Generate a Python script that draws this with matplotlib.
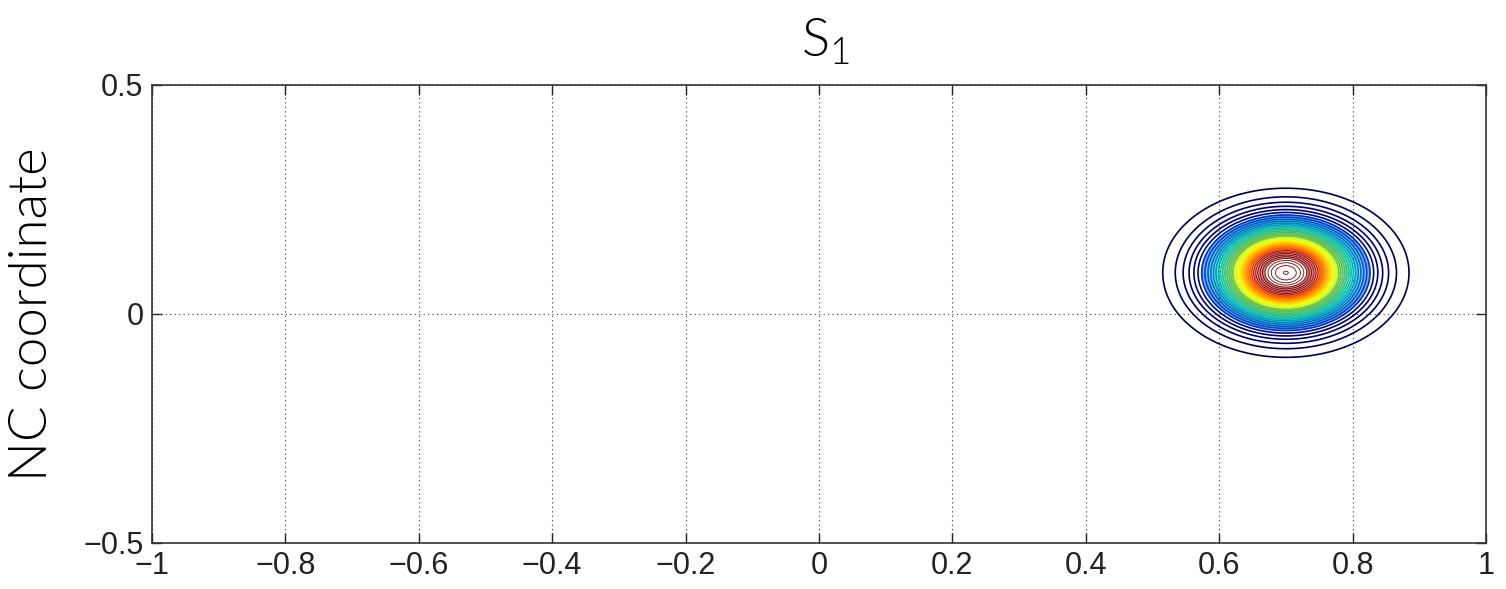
import numpy as np
import matplotlib
matplotlib.use("Agg")
import matplotlib.pyplot as plt
from matplotlib import font_manager

# density of the state around its centre (NC coordinate vs reaction coordinate)
centre_x = 0.70
centre_y = 0.09
width = 0.0674
levels = np.linspace(0.0235, 0.9985, 40)
fill_from = 0.17
fill_to = 0.9

x_ticks = [-1, -0.8, -0.6, -0.4, -0.2, 0, 0.2, 0.4, 0.6, 0.8, 1]
x_labels = ["\u22121", "\u22120.8", "\u22120.6", "\u22120.4", "\u22120.2", "0",
            "0.2", "0.4", "0.6", "0.8", "1"]
y_ticks = [-0.5, 0, 0.5]
y_labels = ["\u22120.5", "0", "0.5"]

tick_font = "Liberation Sans"


def light_font(size):
    # first installed family that ships a true light (300) face
    for fam in ["Lato", "Roboto", "Open Sans", "Noto Sans", "Inter"]:
        for f in font_manager.fontManager.ttflist:
            if f.name == fam and f.weight == 300 and f.style == "normal":
                return font_manager.FontProperties(fname=f.fname, size=size)
    return font_manager.FontProperties(family="Lato", size=size)


xs = np.linspace(-1, 1, 1201)
ys = np.linspace(-0.5, 0.5, 601)
X, Y = np.meshgrid(xs, ys)
Z = np.exp(-((X - centre_x) ** 2 + (Y - centre_y) ** 2) / (2 * width ** 2))

fig = plt.figure(figsize=(15.06, 5.89), dpi=100)
ax = fig.add_axes([0.1009, 0.0781, 0.8858, 0.7776])

jet = plt.get_cmap("jet")
# the middle rings crowd together and read as a soft band of colour
inner = levels[(levels > fill_from) & (levels < fill_to)]
fill_levels = np.concatenate([[fill_from], inner, [fill_to]])
ax.contourf(X, Y, Z, levels=fill_levels, cmap="jet", vmin=0, vmax=0.9,
            alpha=0.5, antialiased=True)


def ring_colour(v):
    if v < fill_from:
        return tuple(np.array(jet(v)[:3]) * 0.45)
    if v < 0.5:
        return tuple(np.array(jet(v / 0.9)[:3]) * 0.75)
    if v < 0.75:
        return jet(v / 0.9)[:3]
    return (0.45, 0.02, 0.02)


line_colors = [ring_colour(v) for v in levels]
line_widths = [1.2 if v < 0.75 else 0.6 for v in levels]
ax.contour(X, Y, Z, levels=levels, colors=line_colors, linewidths=line_widths)

ax.set_xlim(-1, 1)
ax.set_ylim(-0.5, 0.5)
ax.set_xticks(x_ticks)
ax.set_xticklabels(x_labels, fontfamily=tick_font, fontsize=22)
ax.set_yticks(y_ticks)
ax.set_yticklabels(y_labels, fontfamily=tick_font, fontsize=22)
ax.tick_params(direction="in", length=7, width=1, top=True, right=True, pad=6,
               colors="#222222")
ax.grid(True, linestyle=(0, (1, 3)), color="#333333", linewidth=0.8)
for s in ax.spines.values():
    s.set_linewidth(1.2)
    s.set_color("#333333")

ax.set_title(r"$\mathregular{S_1}$", fontproperties=light_font(38), pad=20,
             x=0.505)
ax.set_ylabel("NC coordinate", fontproperties=light_font(38), labelpad=20)

fig.savefig("out.png", dpi=100)
